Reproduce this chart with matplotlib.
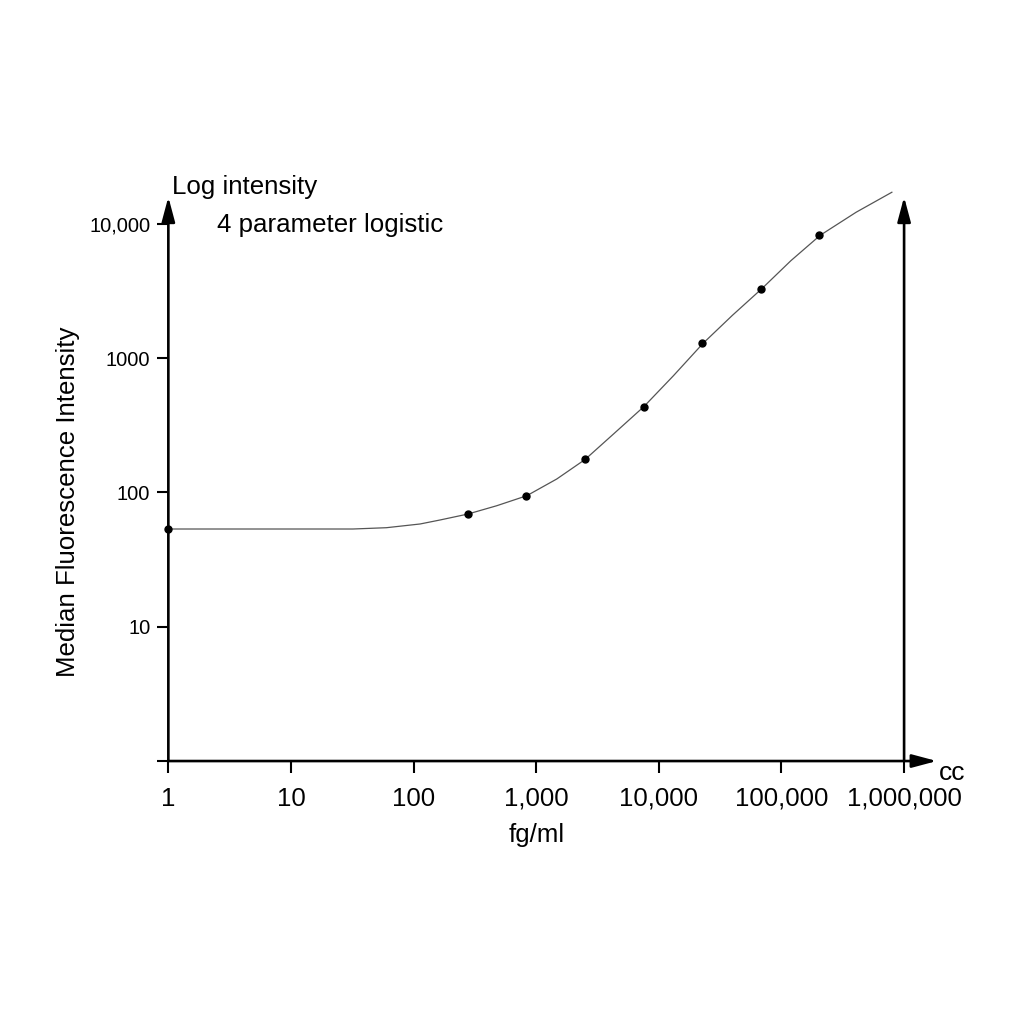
import matplotlib
matplotlib.use("Agg")
import matplotlib.pyplot as plt
from matplotlib.ticker import FixedLocator, NullLocator

plt.rcParams['font.family'] = ['Liberation Sans', 'DejaVu Sans']

# standards (fg/ml) and their median fluorescence intensity
conc = [1, 278, 833, 2500, 7500, 22500, 67500, 202500]
mfi = [53.4, 69, 94.5, 176, 435, 1290, 3290, 8210]

# fitted 4PL curve
curve_x = [1, 10, 32, 60, 113, 164, 277, 477, 838, 1472, 2506, 4265, 7545,
           13150, 22960, 39830, 69200, 119300, 207000, 406500, 795000]
curve_y = [53.4, 53.4, 53.4, 54.6, 58.2, 62.3, 69, 79.6, 94.5, 125.9, 176, 272, 435,
           739, 1289, 2083, 3287, 5310, 8210, 12190, 17170]

x_ticks = [1, 10, 100, 1000, 10000, 100000, 1000000]
x_labels = ['1', '10', '100', '1,000', '10,000', '100,000', '1,000,000']
y_ticks = [1, 10, 100, 1000, 10000]
y_labels = ['', '10', '100', '1000', '10,000']

fig = plt.figure(figsize=(10.24, 10.24), dpi=100)
ax = fig.add_axes([0.1644, 0.2568, 0.7185, 0.5509])
ax.set_xscale('log')
ax.set_yscale('log')
ax.set_xlim(1, 1e6)
ax.set_ylim(1, 10 ** 4.2)

for s in ax.spines.values():
    s.set_visible(False)

ax.plot(curve_x, curve_y, color='#555555', lw=0.9, clip_on=False, zorder=2)
ax.plot(conc, mfi, 'o', color='black', ms=5, clip_on=False, zorder=3)

ax.xaxis.set_major_locator(FixedLocator(x_ticks))
ax.xaxis.set_minor_locator(NullLocator())
ax.set_xticklabels(x_labels, fontsize=18.6)
ax.yaxis.set_major_locator(FixedLocator(y_ticks))
ax.yaxis.set_minor_locator(NullLocator())
ax.set_yticklabels(y_labels, fontsize=14.5)
ax.tick_params(axis='x', length=8.5, width=1.5, pad=10, color='black')
ax.tick_params(axis='y', length=8, width=1.5, pad=5, color='black')

arrow = dict(arrowstyle='-|>,head_length=0.75,head_width=0.2', color='black',
             lw=1.9, mutation_scale=20, shrinkA=0, shrinkB=0)
ax.annotate('', xy=(0, 1.0), xytext=(0, 0), xycoords='axes fraction', arrowprops=arrow)
ax.annotate('', xy=(1, 1.0), xytext=(1, 0), xycoords='axes fraction', arrowprops=arrow)
ax.annotate('', xy=(1.0445, 0), xytext=(0, 0), xycoords='axes fraction', arrowprops=arrow)

ax.text(1.047, -0.022, 'cc', transform=ax.transAxes, fontsize=19, ha='left', va='center')
ax.text(0.005, 1.018, 'Log intensity', transform=ax.transAxes, fontsize=18.6,
        ha='left', va='center')
ax.text(0.066, 0.95, '4 parameter logistic', transform=ax.transAxes, fontsize=18.6,
        ha='left', va='center')

ax.set_xlabel('fg/ml', fontsize=18.6)
ax.xaxis.set_label_coords(0.5, -0.11)
ax.set_ylabel('Median Fluorescence Intensity', fontsize=18.6)
ax.yaxis.set_label_coords(-0.12, 0.459)

fig.savefig('out.png', dpi=100)
